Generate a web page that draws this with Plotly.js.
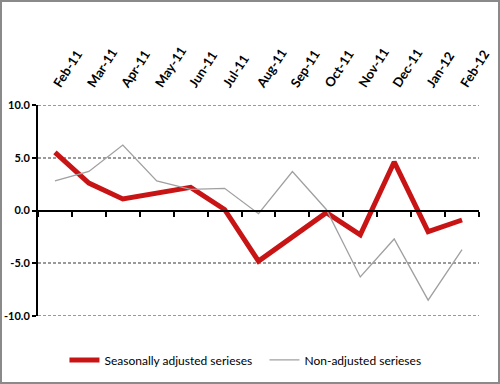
<!DOCTYPE html>
<html>
<head>
<meta charset="utf-8">
<script src="https://cdn.plot.ly/plotly-3.0.1.min.js"></script>
<style>
html,body{margin:0;padding:0;background:#fff;}
#chart{width:496px;height:380px;border:2px solid #8a8a8a;}
</style>
</head>
<body>
<div id="chart"></div>
<script>
const months = ["Feb-11","Mar-11","Apr-11","May-11","Jun-11","Jul-11","Aug-11","Sep-11","Oct-11","Nov-11","Dec-11","Jan-12","Feb-12"];
const seasonallyAdjusted = [5.5, 2.6, 1.1, 1.6, 2.2, 0.1, -4.8, -2.5, -0.2, -2.3, 4.6, -2.0, -0.9];
const nonAdjusted = [2.8, 3.7, 6.2, 2.8, 2.0, 2.1, -0.3, 3.7, 0.1, -6.3, -2.7, -8.5, -3.7];
const yTicks = [10, 5, 0, -5, -10];

const idx = months.map((m, i) => i);
const boundaries = months.map((m, i) => i - 0.5).concat([months.length - 0.5]);
const fontFam = "Lato, 'Open Sans', sans-serif";

const traces = [
  {x: idx, y: seasonallyAdjusted, type: 'scatter', mode: 'lines', name: 'Seasonally adjusted serieses',
   line: {color: '#c81414', width: 5}},
  {x: idx, y: nonAdjusted, type: 'scatter', mode: 'lines', name: 'Non-adjusted serieses',
   line: {color: '#a0a0a0', width: 1.3}},
  {x: [0], y: [0], xaxis: 'x2', yaxis: 'y', type: 'scatter', mode: 'markers', showlegend: false,
   hoverinfo: 'skip', marker: {opacity: 0}}
];

// grid lines at the range ends, which Plotly would otherwise hide at the plot edge
const edgeGrid = [Math.max(...yTicks), Math.min(...yTicks)].map(v => ({
  type: 'line', xref: 'paper', x0: 0, x1: 1, yref: 'y', y0: v, y1: v, layer: 'below',
  line: {color: '#9a9a9a', width: 2, dash: '3px,2px'}
}));

const layout = {
  width: 496, height: 380,
  margin: {l: 36, r: 19, t: 103, b: 66, autoexpand: false},
  paper_bgcolor: '#fff', plot_bgcolor: '#fff',
  showlegend: true,
  font: {family: fontFam, color: '#000'},
  shapes: edgeGrid,
  xaxis: {
    range: [-0.5, months.length - 0.5],
    side: 'top',
    tickvals: idx, ticktext: months,
    tickangle: -57,
    ticklabelstandoff: 10,
    tickfont: {family: fontFam, size: 13, color: '#000', weight: 'bold'},
    showline: false, showgrid: false, zeroline: false, ticks: '',
    fixedrange: true
  },
  xaxis2: {
    overlaying: 'x', matches: 'x', anchor: 'free', position: 0.5,
    range: [-0.5, months.length - 0.5],
    tickvals: boundaries, showticklabels: false,
    ticks: 'outside', ticklen: 5, tickwidth: 2, tickcolor: '#000',
    showline: true, linecolor: '#000', linewidth: 2,
    showgrid: false, zeroline: false
  },
  yaxis: {
    range: [-10, 10],
    tickvals: yTicks, ticktext: yTicks.map(v => v.toFixed(1)),
    tickfont: {family: fontFam, size: 11, color: '#000', weight: 'bold'},
    ticks: 'outside', ticklen: 4, tickwidth: 2, tickcolor: '#000',
    showline: true, linecolor: '#000', linewidth: 2,
    showgrid: true, gridcolor: '#9a9a9a', gridwidth: 2, griddash: '3px,2px',
    zeroline: false
  },
  legend: {
    orientation: 'h', x: 0.06, xanchor: 'left',
    yref: 'container', y: 0.058, yanchor: 'middle',
    font: {family: fontFam, size: 12, color: '#000'},
    entrywidth: 155, itemwidth: 30
  }
};

Plotly.newPlot('chart', traces, layout, {displayModeBar: false, staticPlot: true});
</script>
</body>
</html>
